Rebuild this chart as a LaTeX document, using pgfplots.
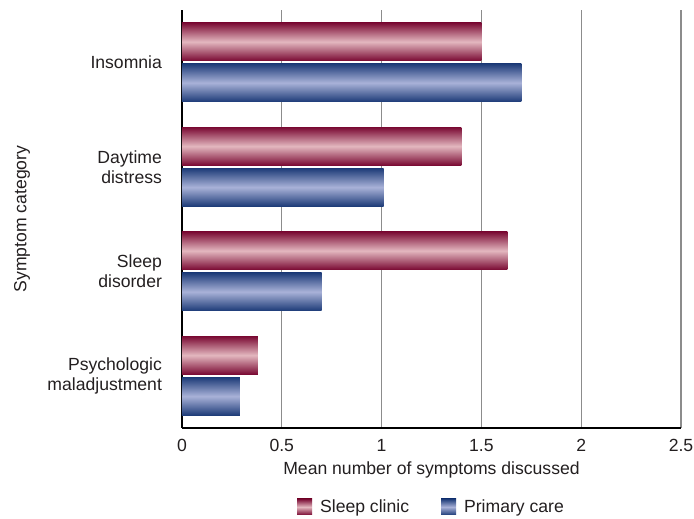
\documentclass[border=0pt]{standalone}
\usepackage{pgfplots}
\pgfplotsset{compat=1.18}
\usepackage{fontspec}
\setmainfont{Liberation Sans}

\definecolor{redD}{HTML}{7A0A33}
\definecolor{redL}{HTML}{E3B7BF}
\definecolor{bluD}{HTML}{1D3B78}
\definecolor{bluL}{HTML}{A9B2D8}
\definecolor{gridgray}{HTML}{8C8C8C}
\definecolor{txt}{HTML}{231F20}

% each bar is its own plot, so that each one gets its own shading
\pgfplotsset{
    clinic/.style={draw=none, top color=redD, bottom color=redD, middle color=redL, bar shift=20.5bp, forget plot},
    primary/.style={draw=none, top color=bluD, bottom color=bluD, middle color=bluL, bar shift=-20.5bp, forget plot},
}

\begin{document}
\fontsize{17.6bp}{20bp}\selectfont
\begin{tikzpicture}
\begin{axis}[
    name=ax,
    scale only axis,
    width=499bp, height=418bp,
    xbar, bar width=38bp,
    xmin=0, xmax=2.5, ymin=0.5, ymax=4.5,
    axis lines=left,
    axis line style={-, black, line width=1.5bp},
    xmajorgrids=true,
    grid style={gridgray, line width=1.3bp},
    major tick length=0pt,
    xtick={0,0.5,1,1.5,2,2.5},
    ytick={1,2,3,4},
    yticklabels={{Psychologic\\maladjustment},{Sleep\\disorder},{Daytime\\distress},Insomnia},
    yticklabel style={align=right, xshift=-14bp, text=txt},
    xticklabel style={yshift=-5bp, text=txt},
    /pgf/number format/assume math mode=true,
    xlabel={Mean number of symptoms discussed},
    xlabel style={at={(axis description cs:0.5,-0.1005)}, anchor=center, text=txt},
    ylabel={Symptom category},
    ylabel style={at={(axis description cs:-0.3206,0.5)}, anchor=center, text=txt},
    legend style={at={(axis description cs:0.5,-0.189)}, anchor=center, draw=none,
        legend columns=-1, text=txt,
        /tikz/every even column/.append style={column sep=30bp},
        /tikz/every odd column/.append style={column sep=6bp}},
    legend image code/.code={\path[#1] (0bp,-8bp) rectangle (15bp,8bp);},
]
% Sleep clinic
\addplot[clinic] coordinates {(1.50,4)};
\addplot[clinic] coordinates {(1.40,3)};
\addplot[clinic] coordinates {(1.63,2)};
\addplot[clinic] coordinates {(0.38,1)};
% Primary care
\addplot[primary] coordinates {(1.70,4)};
\addplot[primary] coordinates {(1.01,3)};
\addplot[primary] coordinates {(0.70,2)};
\addplot[primary] coordinates {(0.29,1)};

\addlegendimage{draw=none, top color=redD, bottom color=redD, middle color=redL}
\addlegendentry{Sleep clinic}
\addlegendimage{draw=none, top color=bluD, bottom color=bluD, middle color=bluL}
\addlegendentry{Primary care}
\end{axis}
\pgfresetboundingbox
\path ([shift={(-182bp,-91bp)}]ax.south west) rectangle ([shift={(13bp,10bp)}]ax.north east);
\end{tikzpicture}
\end{document}
